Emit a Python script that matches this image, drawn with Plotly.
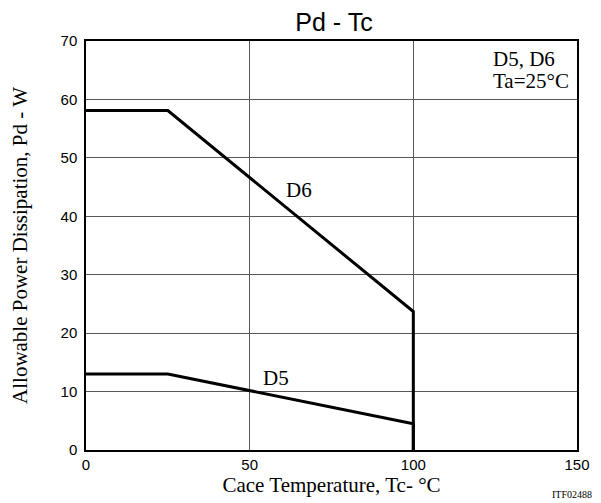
import plotly.graph_objects as go

d6_x = [0, 25, 100, 100]
d6_y = [58.1, 58.1, 23.7, 0]
d5_x = [0, 25, 100, 100]
d5_y = [13.0, 13.0, 4.5, 0]
x_ticks = [0, 50, 100, 150]
y_ticks = [0, 10, 20, 30, 40, 50, 60, 70]

serif = "Liberation Serif, Times New Roman, serif"
sans = "Liberation Sans, Arial, sans-serif"

fig = go.Figure()
for xs, ys in [(d6_x, d6_y), (d5_x, d5_y)]:
    fig.add_trace(go.Scatter(x=xs, y=ys, mode="lines",
                             line=dict(color="black", width=3),
                             showlegend=False, hoverinfo="skip"))

W, H = 593, 495
fig.update_layout(
    width=W, height=H,
    margin=dict(l=78, r=24, t=33, b=53),
    paper_bgcolor="white", plot_bgcolor="white",
    title=dict(text="Pd - Tc", x=326 / W, xanchor="center", y=1 - 14.5 / H, yanchor="middle",
               font=dict(family=sans, size=25, color="black")),
    xaxis=dict(range=[0, 150], tickvals=x_ticks, showgrid=True, gridcolor="#5a5a5a",
               gridwidth=1, showline=True, linecolor="black", linewidth=1.5, mirror=True,
               zeroline=False, ticks="", automargin=False,
               tickfont=dict(family=sans, size=15, color="black"),
               title=dict(text="Cace Temperature, Tc- °C", standoff=4,
                          font=dict(family=serif, size=21, color="black"))),
    yaxis=dict(range=[0, 70], tickvals=y_ticks, showgrid=True, gridcolor="#5a5a5a",
               gridwidth=1, showline=True, linecolor="black", linewidth=1.5, mirror=True,
               zeroline=False, ticks="", automargin=False, ticklabelstandoff=4,
               tickfont=dict(family=sans, size=15, color="black"),
               title=dict(text="Allowable Power Dissipation, Pd - W", standoff=28,
                          font=dict(family=serif, size=21, color="black"))),
    font=dict(family=serif, color="black"),
)

fig.add_annotation(x=65.1, y=44.5, text="D6", showarrow=False,
                   font=dict(family=serif, size=21, color="black"))
fig.add_annotation(x=57.9, y=12.3, text="D5", showarrow=False,
                   font=dict(family=serif, size=21, color="black"))
fig.add_annotation(x=123.7, y=66.9, text="D5, D6", showarrow=False,
                   xanchor="left", font=dict(family=serif, size=21, color="black"))
fig.add_annotation(x=123.7, y=63.2, text="Ta=25°C", showarrow=False,
                   xanchor="left", font=dict(family=serif, size=21, color="black"))
fig.add_annotation(x=(564 - 78) / 491, y=(442 - 487) / 409, xref="paper", yref="paper",
                   text="ITF02488", showarrow=False, xanchor="center", yanchor="middle",
                   font=dict(family=serif, size=10, color="black"))

fig.write_html("out.html")
